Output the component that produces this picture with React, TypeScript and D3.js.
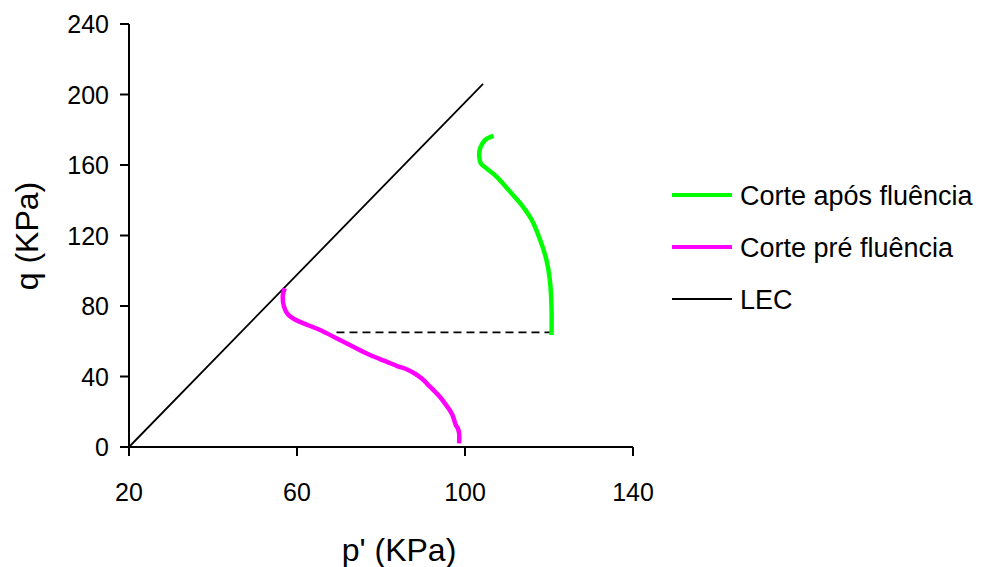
import React from "react";
import * as d3 from "d3";

const xTicks = [20, 60, 100, 140];
const yTicks = [0, 40, 80, 120, 160, 200, 240];

// Corte pré fluência (p', q)
const preP = [98.6, 98.6, 98.3, 97.8, 97.0, 96.2, 95.2, 94.0, 92.5, 91.2, 90.1, 88.8, 87.4, 85.8, 84.0, 81.3, 77.4, 73.4, 69.4, 65.5, 61.5, 59.4, 57.8, 56.9, 56.6, 56.8, 57.1];
const preQ = [2.1, 7.9, 10.5, 12.5, 18.2, 21.5, 24.8, 28.5, 32.3, 35.3, 38.0, 40.5, 42.6, 44.4, 45.8, 48.4, 52.2, 56.9, 61.7, 66.4, 70.2, 72.5, 75.3, 79.6, 85.3, 88.0, 90.0];

// Corte após fluência (p', q)
const posP = [120.6, 120.6, 120.2, 119.4, 117.9, 115.9, 113.5, 110.7, 107.5, 105.1, 103.8, 103.4, 103.6, 104.8, 106.8];
const posQ = [63.5, 79.6, 94.8, 106.1, 117.4, 128.8, 137.3, 144.9, 153.4, 158.1, 160.8, 164.5, 169.5, 174.2, 176.5];

// LEC line
const lecP = [20, 104.3];
const lecQ = [0, 206];

// dashed connector
const dashP = [69.4, 120.6];
const dashQ = [65, 65];

const legendLabels = ["Corte após fluência", "Corte pré fluência", "LEC"];
const legendColors = ["#00ff00", "#ff00ff", "#000000"];

export default function App() {
  const W = 988, H = 567;
  const x = d3.scaleLinear().domain([20, 140]).range([129, 633]);
  const y = d3.scaleLinear().domain([0, 240]).range([447, 24]);
  const line = d3.line<[number, number]>().x(d => x(d[0])).y(d => y(d[1])).curve(d3.curveCatmullRom);
  const straight = d3.line<[number, number]>().x(d => x(d[0])).y(d => y(d[1]));
  const zip = (a: number[], b: number[]) => a.map((v, i) => [v, b[i]] as [number, number]);
  const font = "'Liberation Sans', Arial, sans-serif";
  const fs = 25;
  return (
    <svg width={W} height={H} style={{ position: "absolute", left: 0, top: 0, background: "#fff" }} fontFamily={font}>
      <rect width={W} height={H} fill="#fff" />
      {/* axes */}
      <line x1={x(20)} x2={x(140)} y1={y(0)} y2={y(0)} stroke="#000" strokeWidth={2} />
      <line x1={x(20)} x2={x(20)} y1={y(0)} y2={y(240)} stroke="#000" strokeWidth={2} />
      {xTicks.map(t => (
        <g key={"x" + t}>
          <line x1={x(t)} x2={x(t)} y1={y(0)} y2={y(0) + 9} stroke="#000" strokeWidth={2} />
          <text x={x(t)} y={y(0) + 54} textAnchor="middle" fontSize={fs} fill="#000">{t}</text>
        </g>
      ))}
      {yTicks.map(t => (
        <g key={"y" + t}>
          <line x1={x(20) - 9} x2={x(20)} y1={y(t)} y2={y(t)} stroke="#000" strokeWidth={2} />
          <text x={x(20) - 20} y={y(t) + 9} textAnchor="end" fontSize={fs} fill="#000">{t}</text>
        </g>
      ))}
      <text x={399} y={561} textAnchor="middle" fontSize={32} fill="#000">p' (KPa)</text>
      <text transform={`translate(38,236) rotate(-90)`} textAnchor="middle" fontSize={32} fill="#000">q (KPa)</text>
      {/* data */}
      <path d={straight(zip(lecP, lecQ)) || ""} fill="none" stroke="#000" strokeWidth={1.8} />
      <path d={straight(zip(dashP, dashQ)) || ""} fill="none" stroke="#000" strokeWidth={1.8} strokeDasharray="8,5" />
      <path d={line(zip(preP, preQ)) || ""} fill="none" stroke="#ff00ff" strokeWidth={4.5} strokeLinejoin="round" />
      <path d={line(zip(posP, posQ)) || ""} fill="none" stroke="#00ff00" strokeWidth={4.5} strokeLinejoin="round" />
      {/* legend */}
      {legendLabels.map((l, i) => (
        <g key={l} transform={`translate(0,${195 + i * 52})`}>
          <line x1={672} x2={732} y1={0} y2={0} stroke={legendColors[i]} strokeWidth={i < 2 ? 4 : 1.8} />
          <text x={740} y={9.5} fontSize={27} fill="#000">{l}</text>
        </g>
      ))}
    </svg>
  );
}
